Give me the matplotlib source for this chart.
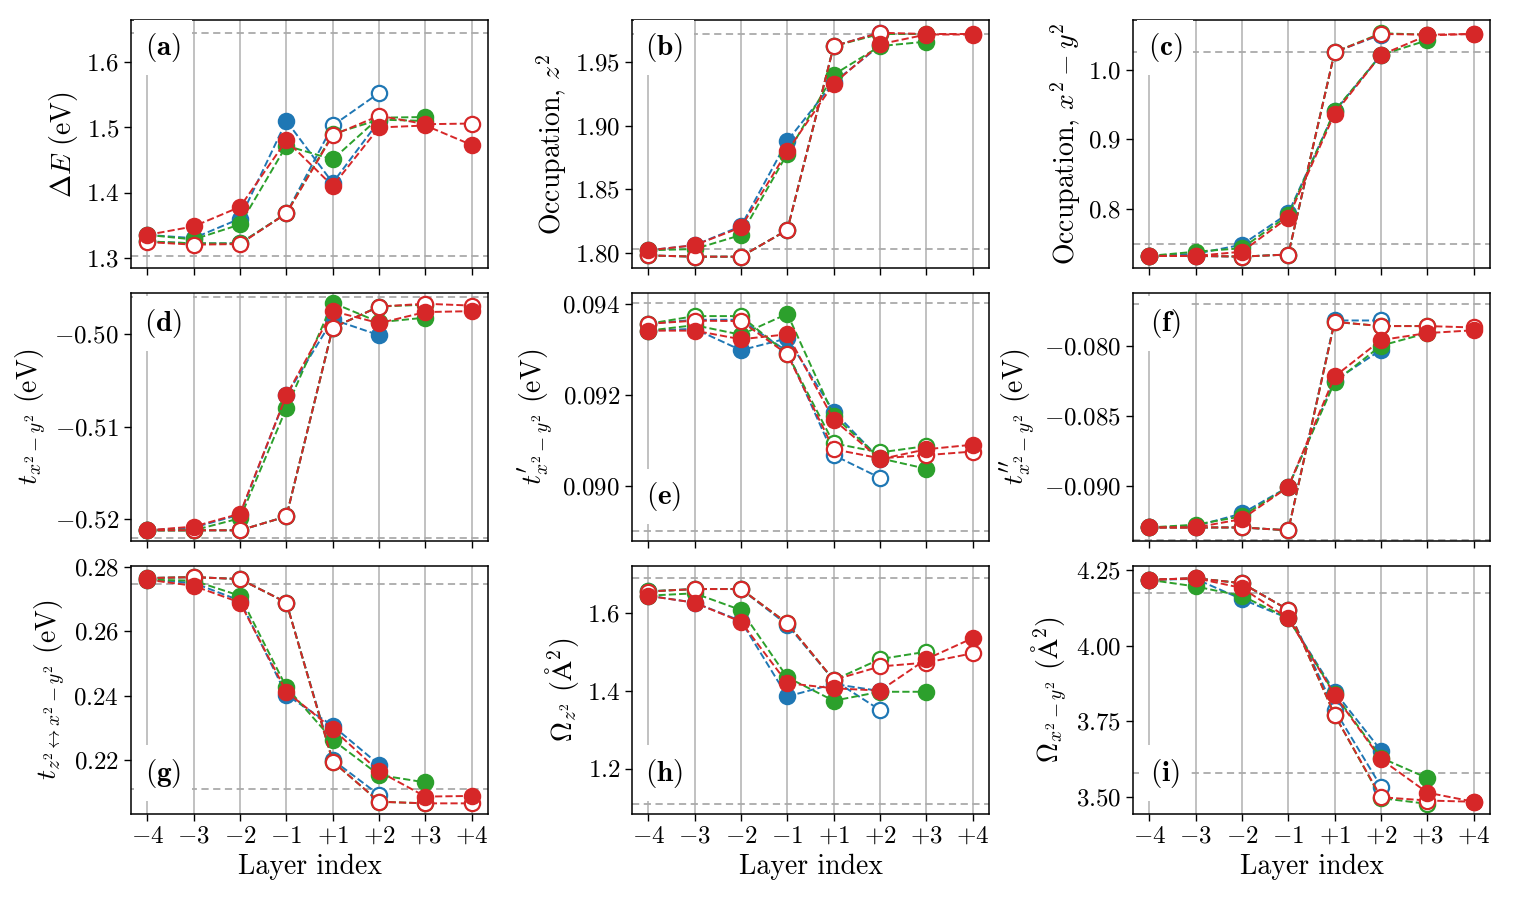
import numpy as np
import matplotlib
matplotlib.use('Agg')
import matplotlib.pyplot as plt
from matplotlib.ticker import MultipleLocator, ScalarFormatter

plt.rcParams['font.family'] = 'serif'
plt.rcParams['font.serif'] = ['cmr10', 'DejaVu Serif']
plt.rcParams['mathtext.fontset'] = 'cm'
plt.rcParams['axes.formatter.use_mathtext'] = True
plt.rcParams['axes.unicode_minus'] = True

# layer labels (blue stops at +2, green at +3, red at +4)
layers = ['$-4$', '$-3$', '$-2$', '$-1$', '$+1$', '$+2$', '$+3$', '$+4$']

# (a) Delta E
a_blue_f = [1.335, 1.330, 1.360, 1.510, 1.415, 1.510]
a_blue_o = [1.325, 1.322, 1.322, 1.368, 1.503, 1.553]
a_green_f = [1.335, 1.328, 1.351, 1.472, 1.451, 1.515, 1.516]
a_green_o = [1.325, 1.322, 1.322, 1.368, 1.490, 1.512, 1.510]
a_red_f = [1.335, 1.348, 1.378, 1.480, 1.410, 1.500, 1.503, 1.473]
a_red_o = [1.324, 1.320, 1.321, 1.368, 1.488, 1.518, 1.505, 1.506]
a_ref = [1.645, 1.302]

# (b) occupation z2
b_blue_f = [1.802, 1.806, 1.821, 1.888, 1.934, 1.963]
b_blue_o = [1.798, 1.797, 1.797, 1.818, 1.9625, 1.973]
b_green_f = [1.802, 1.803, 1.814, 1.878, 1.940, 1.9625, 1.966]
b_green_o = [1.798, 1.797, 1.797, 1.818, 1.9625, 1.972, 1.972]
b_red_f = [1.802, 1.806, 1.820, 1.880, 1.933, 1.964, 1.9716, 1.9716]
b_red_o = [1.798, 1.797, 1.797, 1.818, 1.9625, 1.973, 1.972, 1.972]
b_ref = [1.9718, 1.8031]

# (c) occupation x2-y2
c_blue_f = [0.733, 0.736, 0.749, 0.794, 0.940, 1.021]
c_blue_o = [0.733, 0.733, 0.732, 0.735, 1.025, 1.050]
c_green_f = [0.733, 0.739, 0.744, 0.791, 0.941, 1.021, 1.042]
c_green_o = [0.733, 0.733, 0.732, 0.735, 1.025, 1.052, 1.050]
c_red_f = [0.733, 0.733, 0.739, 0.788, 0.937, 1.021, 1.049, 1.051]
c_red_o = [0.733, 0.733, 0.732, 0.735, 1.025, 1.051, 1.050, 1.051]
c_ref = [1.0246, 0.7497]

# (d) t
d_blue_f = [-0.5212, -0.5209, -0.5195, -0.5066, -0.4984, -0.5001]
d_blue_o = [-0.5212, -0.5212, -0.5212, -0.5197, -0.4993, -0.4970]
d_green_f = [-0.5212, -0.5212, -0.5199, -0.5080, -0.4966, -0.4987, -0.4982]
d_green_o = [-0.5212, -0.5212, -0.5212, -0.5197, -0.4993, -0.4970, -0.4968]
d_red_f = [-0.5212, -0.5208, -0.5194, -0.5066, -0.4975, -0.4988, -0.4976, -0.4975]
d_red_o = [-0.5212, -0.5212, -0.5212, -0.5197, -0.4993, -0.4970, -0.4967, -0.4969]
d_ref = [-0.4960, -0.5220]

# (e) t'
e_blue_f = [0.09341, 0.09345, 0.09298, 0.09324, 0.09163, 0.09058]
e_blue_o = [0.09356, 0.09365, 0.09365, 0.09295, 0.09067, 0.09017]
e_green_f = [0.09341, 0.09353, 0.09332, 0.09378, 0.09154, 0.09060, 0.09037]
e_green_o = [0.09356, 0.09373, 0.09373, 0.09290, 0.09093, 0.09073, 0.09087]
e_red_f = [0.09341, 0.09341, 0.09322, 0.09333, 0.09145, 0.09058, 0.09080, 0.09090]
e_red_o = [0.09356, 0.09363, 0.09362, 0.09289, 0.09080, 0.09060, 0.09067, 0.09075]
e_ref = [0.09401, 0.08901]

# (f) t''
f_blue_f = [-0.0930, -0.0929, -0.0920, -0.0901, -0.0825, -0.0803]
f_blue_o = [-0.0930, -0.0930, -0.0930, -0.0932, -0.0782, -0.0782]
f_green_f = [-0.0930, -0.0928, -0.0922, -0.0901, -0.0826, -0.0800, -0.0791]
f_green_o = [-0.0930, -0.0930, -0.0930, -0.0932, -0.0783, -0.0786, -0.0786]
f_red_f = [-0.0930, -0.0930, -0.0924, -0.0901, -0.0822, -0.0796, -0.0791, -0.0789]
f_red_o = [-0.0930, -0.0930, -0.0930, -0.0932, -0.0783, -0.0786, -0.0786, -0.0787]
f_ref = [-0.0770, -0.0939]

# (g) t z2 <-> x2-y2
g_blue_f = [0.2760, 0.2750, 0.2695, 0.2402, 0.2306, 0.2185]
g_blue_o = [0.2765, 0.2768, 0.2762, 0.2689, 0.2200, 0.2091]
g_green_f = [0.2760, 0.2757, 0.2710, 0.2426, 0.2262, 0.2153, 0.2130]
g_green_o = [0.2765, 0.2768, 0.2762, 0.2689, 0.2195, 0.2070, 0.2065]
g_red_f = [0.2760, 0.2741, 0.2689, 0.2412, 0.2296, 0.2164, 0.2086, 0.2088]
g_red_o = [0.2765, 0.2768, 0.2762, 0.2689, 0.2195, 0.2070, 0.2065, 0.2065]
g_ref = [0.2747, 0.2109]

# (h) Omega z2
h_blue_f = [1.645, 1.627, 1.580, 1.386, 1.418, 1.400]
h_blue_o = [1.656, 1.662, 1.662, 1.570, 1.428, 1.351]
h_green_f = [1.645, 1.651, 1.608, 1.435, 1.375, 1.398, 1.398]
h_green_o = [1.656, 1.662, 1.662, 1.574, 1.428, 1.482, 1.501]
h_red_f = [1.6445, 1.627, 1.578, 1.420, 1.407, 1.401, 1.482, 1.536]
h_red_o = [1.6556, 1.662, 1.662, 1.574, 1.4285, 1.463, 1.473, 1.497]
h_ref = [1.690, 1.110]

# (i) Omega x2-y2
i_blue_f = [4.217, 4.220, 4.153, 4.090, 3.848, 3.654]
i_blue_o = [4.217, 4.222, 4.206, 4.118, 3.788, 3.535]
i_green_f = [4.217, 4.195, 4.164, 4.090, 3.840, 3.630, 3.563]
i_green_o = [4.217, 4.222, 4.206, 4.118, 3.771, 3.497, 3.478]
i_red_f = [4.217, 4.2226, 4.190, 4.090, 3.837, 3.625, 3.515, 3.485]
i_red_o = [4.217, 4.222, 4.206, 4.118, 3.771, 3.500, 3.489, 3.485]
i_ref = [4.173, 3.581]

panels = [
    ('a', r'$\Delta E$ (eV)', [a_blue_f, a_blue_o, a_green_f, a_green_o, a_red_f, a_red_o], a_ref),
    ('b', r'Occupation, $z^2$', [b_blue_f, b_blue_o, b_green_f, b_green_o, b_red_f, b_red_o], b_ref),
    ('c', r'Occupation, $x^2-y^2$', [c_blue_f, c_blue_o, c_green_f, c_green_o, c_red_f, c_red_o], c_ref),
    ('d', r'$t_{x^2-y^2}$ (eV)', [d_blue_f, d_blue_o, d_green_f, d_green_o, d_red_f, d_red_o], d_ref),
    ('e', r"$t^{\prime}_{x^2-y^2}$ (eV)", [e_blue_f, e_blue_o, e_green_f, e_green_o, e_red_f, e_red_o], e_ref),
    ('f', r"$t^{\prime\prime}_{x^2-y^2}$ (eV)", [f_blue_f, f_blue_o, f_green_f, f_green_o, f_red_f, f_red_o], f_ref),
    ('g', r'$t_{z^2\leftrightarrow x^2-y^2}$ (eV)', [g_blue_f, g_blue_o, g_green_f, g_green_o, g_red_f, g_red_o], g_ref),
    ('h', r'$\Omega_{z^2}$ ($\mathrm{\AA}^2$)', [h_blue_f, h_blue_o, h_green_f, h_green_o, h_red_f, h_red_o], h_ref),
    ('i', r'$\Omega_{x^2-y^2}$ ($\mathrm{\AA}^2$)', [i_blue_f, i_blue_o, i_green_f, i_green_o, i_red_f, i_red_o], i_ref),
]

# axis settings (not data)
ylims = [(1.284, 1.665), (1.788, 1.983), (0.7155, 1.071),
         (-0.52236, -0.49553), (0.08878, 0.09424), (-0.09397, -0.07623),
         (0.2032, 0.2803), (1.084, 1.7216), (3.4447, 4.263)]
steps = [0.1, 0.05, 0.1, 0.01, 0.002, 0.005, 0.02, 0.2, 0.25]
label_y = [0.888, 0.888, 0.888, 0.878, 0.179, 0.878, 0.165, 0.165, 0.165]

colors = ['#1f77b4', '#1f77b4', '#2ca02c', '#2ca02c', '#d62728', '#d62728']
filled = [True, False, True, False, True, False]
order = [1, 0, 3, 2, 5, 4]  # open first, then filled, per colour

fig, axes = plt.subplots(3, 3, figsize=(15.13, 9.01), dpi=100, sharex=True)
fig.subplots_adjust(left=0.0866, right=0.9848, top=0.9778, bottom=0.0966,
                    wspace=0.403, hspace=0.1)

for k, (ax, (tag, ylabel, series, ref)) in enumerate(zip(axes.flat, panels)):
    ax.grid(axis='x', color='#b0b0b0', lw=1.1, zorder=0)
    ax.set_axisbelow(True)
    for r in ref:
        ax.axhline(r, color='#aaaaaa', lw=1.3, ls=(0, (4, 2.5)), zorder=1)
    for j in order:
        ys = series[j]
        xs = np.arange(len(ys))
        face = colors[j] if filled[j] else 'white'
        ax.plot(xs, ys, '--o', color=colors[j], ms=11, lw=1.4,
                mec=colors[j], mfc=face, mew=1.6, zorder=2)
    ax.set_xlim(-0.35, 7.35)
    ax.set_ylim(*ylims[k])
    ax.yaxis.set_major_locator(MultipleLocator(steps[k]))
    fmt = ScalarFormatter(useMathText=True)
    fmt.set_useOffset(False)
    ax.yaxis.set_major_formatter(fmt)
    ax.set_ylabel(ylabel, fontsize=20)
    ax.tick_params(labelsize=18, direction='out', length=5, width=1)
    for s in ax.spines.values():
        s.set_linewidth(1.1)
    ax.text(0.09, label_y[k], r'$\mathbf{(' + tag + r')}$', transform=ax.transAxes,
            ha='center', va='center', fontsize=21, zorder=3,
            bbox=dict(facecolor='white', edgecolor='none', pad=8))

for ax in axes[-1]:
    ax.set_xticks(np.arange(len(layers)))
    ax.set_xticklabels(layers)
    ax.set_xlabel('Layer index', fontsize=20)

fig.savefig('out.png', dpi=100)
